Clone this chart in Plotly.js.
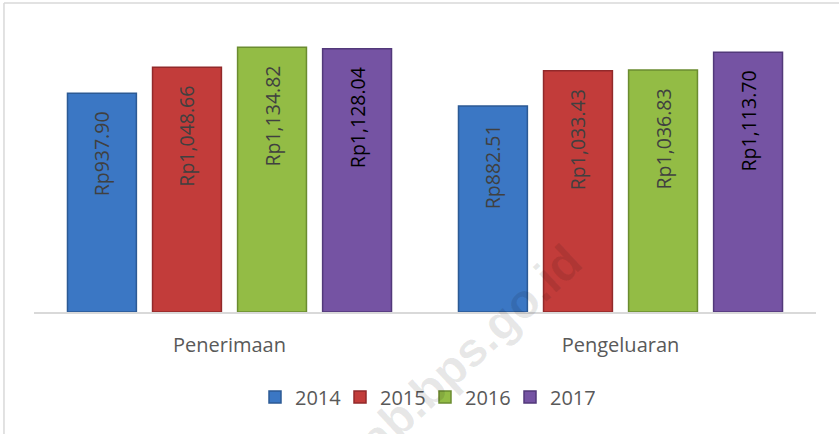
<!DOCTYPE html>
<html>
<head>
<meta charset="utf-8">
<script src="https://cdn.plot.ly/plotly-3.0.1.min.js"></script>
<style>html,body{margin:0;padding:0;background:#fff;}#chart{width:839px;height:434px;}</style>
</head>
<body>
<div id="chart"></div>
<script>
const categories = ["Penerimaan", "Pengeluaran"];
const years = ["2014", "2015", "2016", "2017"];
const values2014 = [937.90, 882.51];
const values2015 = [1048.66, 1033.43];
const values2016 = [1134.82, 1036.83];
const values2017 = [1128.04, 1113.70];

const seriesValues = [values2014, values2015, values2016, values2017];
const colors = ["#3b77c4", "#c23c3a", "#93bc45", "#7553a3"];
const lineColors = ["#2c5a94", "#92292a", "#6b8c30", "#52397a"];
const textColors = ["#404040", "#404040", "#404040", "#000000"];

const traces = years.map((yr, i) => ({
  type: "bar",
  name: yr,
  x: categories,
  y: seriesValues[i],
  texttemplate: "Rp%{y:,.2f}<span style='color:rgba(0,0,0,0)'>.,.</span>",
  textposition: "inside",
  insidetextanchor: "end",
  textangle: -90,
  textfont: {family: "Open Sans, Liberation Sans, sans-serif", size: 19.5, color: textColors[i]},
  marker: {color: colors[i], line: {color: lineColors[i], width: 1.5}},
  hoverinfo: "skip"
}));

const layout = {
  width: 839, height: 434,
  margin: {l: 34, r: 23, t: 32, b: 122},
  paper_bgcolor: "#ffffff",
  plot_bgcolor: "#ffffff",
  barmode: "group",
  bargap: 0.13,
  bargroupgap: 0.19,
  showlegend: true,
  legend: {
    orientation: "h",
    x: 0.5, xanchor: "center",
    y: -0.304, yanchor: "middle",
    font: {family: "Open Sans, Liberation Sans, sans-serif", size: 20, color: "#595959"},
    itemwidth: 30,
    entrywidth: 40,
    entrywidthmode: "pixels",
    tracegroupgap: 0
  },
  xaxis: {
    showline: true, linecolor: "#d9d9d9", linewidth: 2,
    ticks: "", showgrid: false, zeroline: false,
    ticklabelstandoff: 14,
    tickfont: {family: "Open Sans, Liberation Sans, sans-serif", size: 20, color: "#595959"}
  },
  yaxis: {
    range: [0, 1200], visible: false, showgrid: false, zeroline: false
  },
  shapes: [
    {type: "line", xref: "paper", yref: "paper", x0: -0.0384, x1: 1.1, y0: 1.1036, y1: 1.1036,
     line: {color: "#d9d9d9", width: 1.5}},
    {type: "line", xref: "paper", yref: "paper", x0: -0.0384, x1: -0.0384, y0: 1.1036, y1: -0.5,
     line: {color: "#d9d9d9", width: 1.5}}
  ],
  annotations: [
    {xref: "paper", yref: "paper", x: 0.545, y: -0.17, xanchor: "center", yanchor: "middle",
     text: "<b>kab.bps.go.id</b>", showarrow: false, textangle: -43,
     font: {family: "Liberation Sans, Arial, sans-serif", size: 48, color: "rgba(0,0,0,0.09)"}}
  ]
};

Plotly.newPlot("chart", traces, layout, {displayModeBar: false, staticPlot: true});
</script>
</body>
</html>
